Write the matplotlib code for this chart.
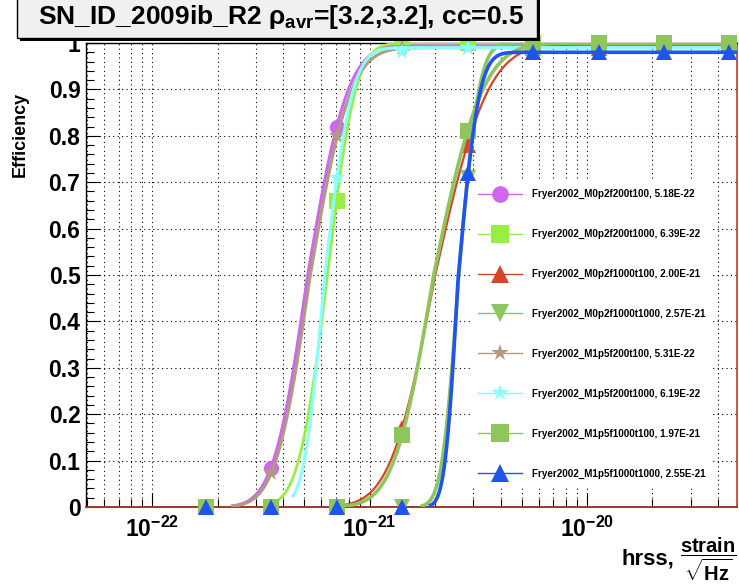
import math
import numpy as np
import matplotlib
matplotlib.use("Agg")
import matplotlib.pyplot as plt
from matplotlib.ticker import FixedLocator, FuncFormatter, MultipleLocator, NullFormatter
from matplotlib.lines import Line2D
from matplotlib.patches import Rectangle

plt.rcParams['font.family'] = ['Liberation Sans', 'DejaVu Sans']
plt.rcParams['font.weight'] = 'bold'
plt.rcParams['mathtext.fontset'] = 'custom'
plt.rcParams['mathtext.rm'] = 'Liberation Sans'
plt.rcParams['mathtext.bf'] = 'Liberation Sans:bold'
plt.rcParams['mathtext.it'] = 'Liberation Sans:italic'

# ---------------- data ----------------
hrss = [1.76e-22, 3.52e-22, 7.04e-22, 1.41e-21, 2.82e-21, 5.63e-21, 1.13e-20, 2.25e-20, 4.50e-20]

labels = [
    "Fryer2002_M0p2f200t100, 5.18E-22",
    "Fryer2002_M0p2f200t1000, 6.39E-22",
    "Fryer2002_M0p2f1000t100, 2.00E-21",
    "Fryer2002_M0p2f1000t1000, 2.57E-21",
    "Fryer2002_M1p5f200t100, 5.31E-22",
    "Fryer2002_M1p5f200t1000, 6.19E-22",
    "Fryer2002_M1p5f1000t100, 1.97E-21",
    "Fryer2002_M1p5f1000t1000, 2.55E-21",
]

eff_M0p2f200t100 = [0.0, 0.085, 0.82, 0.995, 1.0, 1.0, 1.0, 1.0, 1.0]
eff_M0p2f200t1000 = [0.0, 0.0, 0.66, 1.0, 1.0, 1.0, 1.0, 1.0, 1.0]
eff_M0p2f1000t100 = [0.0, 0.0, 0.0, 0.17, 0.78, 0.98, 0.99, 0.995, 0.995]
eff_M0p2f1000t1000 = [0.0, 0.0, 0.0, 0.0, 0.71, 0.98, 0.995, 1.0, 1.0]
eff_M1p5f200t100 = [0.0, 0.073, 0.80, 0.99, 0.99, 0.99, 0.99, 0.99, 0.99]
eff_M1p5f200t1000 = [0.0, 0.0, 0.71, 0.98, 0.99, 0.99, 0.99, 0.99, 0.99]
eff_M1p5f1000t100 = [0.0, 0.0, 0.0, 0.155, 0.81, 0.99, 1.0, 1.0, 1.0]
eff_M1p5f1000t1000 = [0.0, 0.0, 0.0, 0.0, 0.72, 0.98, 0.98, 0.98, 0.98]

efficiencies = [eff_M0p2f200t100, eff_M0p2f200t1000, eff_M0p2f1000t100, eff_M0p2f1000t1000,
                eff_M1p5f200t100, eff_M1p5f200t1000, eff_M1p5f1000t100, eff_M1p5f1000t1000]

# fit parameters (50% point, lower/upper log-widths, plateau, fit-range start)
fit_x50 = [5.18e-22, 6.39e-22, 2.00e-21, 2.57e-21, 5.31e-22, 6.19e-22, 1.97e-21, 2.55e-21]
fit_sig_lo = [0.123, 0.104, 0.16, 0.06, 0.123, 0.073, 0.143, 0.047]
fit_sig_hi = [0.145, 0.102, 0.19, 0.073, 0.145, 0.10, 0.177, 0.075]
fit_plateau = [0.997, 1.0, 0.997, 1.0, 0.99, 0.99, 1.0, 0.98]
fit_start = [2.3e-22, 3.6e-22, 7.1e-22, 1.72e-21, 2.3e-22, 4.4e-22, 7.1e-22, 1.87e-21]

x_range = (4.95e-23, 4.9e-20)
x_major = [1e-22, 1e-21, 1e-20]

# ---------------- styles ----------------
colors = ['#cf66f0', '#99ee44', '#d84428', '#8cc660', '#b09a80', '#88ffff', '#8fc65c', '#1f55ee']
markers = ['o', 's', '^', 'v', '*', '*', 's', '^']
msizes = [11, 11.5, 11.5, 11.5, 12, 12, 11.5, 11.5]
lws = [2.2, 2.0, 1.6, 2.6, 2.2, 2.2, 2.6, 2.6]

fig = plt.figure(figsize=(7.39, 5.85), dpi=100)
W, H = 739.0, 585.0
ax = fig.add_axes([86 / W, 1 - 507 / H, (737 - 86) / W, (507 - 43) / H])
ax.set_xscale('log')
ax.set_xlim(*x_range)
ax.set_ylim(0, 1.0)

def model(x, x50, slo, shi, p):
    y = np.log10(x / x50)
    s = np.where(y < 0, slo, shi)
    z = y / s
    return p * 0.5 * (1 + np.vectorize(math.erf)(z / math.sqrt(2)))

for i in range(len(labels)):
    xs = np.logspace(np.log10(fit_start[i]), np.log10(x_range[1]), 500)
    ys = model(xs, fit_x50[i], fit_sig_lo[i], fit_sig_hi[i], fit_plateau[i])
    ax.plot(xs, ys, color=colors[i], lw=lws[i], zorder=3 + i * 0.1, clip_on=True, solid_capstyle='butt')
    ax.plot(hrss, efficiencies[i], ls='none', marker=markers[i], ms=msizes[i],
            color=colors[i], mew=0, zorder=3.05 + i * 0.1, clip_on=False)

# axes styling
minor = [m * d for d in [1e-23, 1e-22, 1e-21, 1e-20] for m in range(2, 10)
         if x_range[0] <= m * d <= x_range[1]]
ax.xaxis.set_major_locator(FixedLocator(x_major))
ax.xaxis.set_minor_locator(FixedLocator(minor))
ax.xaxis.set_major_formatter(FuncFormatter(lambda v, p: r"$\mathbf{10^{%d}}$" % round(math.log10(v))))
ax.xaxis.set_minor_formatter(NullFormatter())
ax.yaxis.set_major_locator(MultipleLocator(0.1))
ax.yaxis.set_minor_locator(MultipleLocator(0.02))
ax.yaxis.set_major_formatter(FuncFormatter(lambda v, p: '0' if abs(v) < 1e-9 else ('1' if abs(v - 1) < 1e-9 else '%.1f' % v)))

ax.tick_params(which='major', direction='in', length=10, width=0.8, labelsize=16.5, pad=4,
               top=False, right=False)
ax.tick_params(which='minor', direction='in', length=5.5, width=0.8, top=False, right=False)
ax.tick_params(axis='x', which='major', pad=7)

ax.grid(True, axis='x', which='both', color='black', ls=(0, (1, 3)), lw=0.8)
ax.grid(True, axis='y', which='major', color='black', ls=(0, (1, 3)), lw=0.8)
ax.set_axisbelow(True)

ax.spines['bottom'].set_color('#9a3a2a')
ax.spines['bottom'].set_linewidth(1.4)
ax.spines['right'].set_color('#cc3322')
ax.spines['right'].set_linewidth(1.2)
ax.spines['left'].set_linewidth(1.0)
ax.spines['top'].set_linewidth(1.0)

# legend
handles = [Line2D([], [], color=colors[i], lw=1.0, marker=markers[i], ms=msizes[i] + 1, mew=0)
           for i in range(len(labels))]
leg = ax.legend(handles, labels, loc='upper left', bbox_to_anchor=(0.5899, 0.7026),
                frameon=True, facecolor='white', edgecolor='none', fancybox=False, framealpha=1,
                prop={'size': 7.1, 'weight': 'bold'}, handlelength=4.46, handletextpad=1.0,
                labelspacing=3.03, borderpad=0.81, borderaxespad=0)
leg.set_zorder(2.5)

# labels
fig.text(20 / W, 1 - 134 / H, 'Efficiency', rotation=90, ha='center', va='center',
         fontsize=13, fontweight='bold')
fig.text(674 / W, 1 - 564 / H, "hrss,", ha='right', va='baseline', fontsize=16, fontweight='bold')
fig.text(737 / W, 1 - 562 / H, r"$\dfrac{\mathbf{strain}}{\sqrt{\mathbf{Hz}}}$",
         ha='right', va='baseline', fontsize=14.5, fontweight='bold')

# title box with shadow
fig.patches.append(Rectangle((20 / W, 1 - 41 / H), 520 / W, 45 / H, transform=fig.transFigure,
                             facecolor='black', edgecolor='none', zorder=20))
fig.patches.append(Rectangle((17 / W, 1 - 38 / H), 520 / W, 42 / H, transform=fig.transFigure,
                             facecolor='#f0f0f0', edgecolor='black', lw=1.0, zorder=21))
fig.text(38 / W, 1 - 24 / H, r"SN_ID_2009ib_R2 $\mathrm{\rho}_{\mathbf{avr}}$=[3.2,3.2], cc=0.5",
         ha='left', va='baseline', fontsize=19, fontweight='bold', zorder=22)

fig.savefig('out.png', dpi=100)
